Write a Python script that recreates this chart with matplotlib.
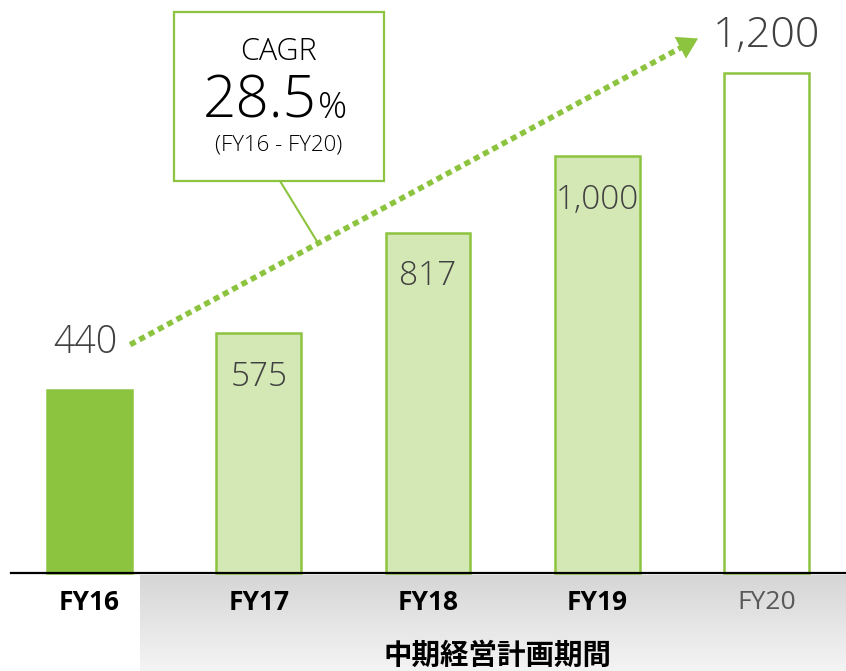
import numpy as np
import matplotlib
matplotlib.use('Agg')
import matplotlib.pyplot as plt
from matplotlib.patches import Rectangle, FancyArrowPatch
from matplotlib.lines import Line2D

# Data
years = ['FY16', 'FY17', 'FY18', 'FY19', 'FY20']
sales = [440, 575, 817, 1000, 1200]
value_labels = ['440', '575', '817', '1,000', '1,200']
cagr_text = '28.5'
cagr_period = '(FY16 - FY20)'
band_label = '中期経営計画期間'

GREEN = '#8dc43f'
LIGHT = '#d3e8b4'
TXT = '#404040'

W, H = 846, 671
fig = plt.figure(figsize=(W / 100, H / 100), dpi=100)
ax = fig.add_axes([0, 0, 1, 1])
ax.set_xlim(-0.5288, 4.4697)
ax.set_ylim(-235.2, 1375.2)
ax.axis('off')

latin = ['Open Sans', 'DejaVu Sans']
cjk = ['Noto Sans CJK JP', 'DejaVu Sans']


def fxy(px, py):
    # pixel position (from top-left) to figure fraction
    return px / W, 1 - py / H


x = np.arange(len(years))

# gray gradient band under the mid-term plan years
grad = np.linspace(0, 1, 100).reshape(-1, 1)
ax.imshow(grad, cmap=matplotlib.colors.LinearSegmentedColormap.from_list('g', ['#d6d6d6', '#f4f4f4']),
          extent=(0.3, 4.4697, -235.2, -5), aspect='auto', zorder=0)

# bars
faces = [GREEN, LIGHT, LIGHT, LIGHT, 'white']
for i in range(len(years)):
    ax.bar(x[i], sales[i], width=0.5, color=faces[i],
           edgecolor=GREEN, linewidth=1.8, zorder=2)

# baseline
ax.axhline(0, xmin=0.013, xmax=1, color='black', linewidth=1.6, zorder=3)

# value labels inside bars
for i in [1, 2, 3]:
    ax.text(x[i], sales[i] - 105, value_labels[i], ha='center', va='center',
            fontsize=24, color=TXT, family=latin, fontweight='light', zorder=4)
ax.text(x[0] + 0.168, sales[0] + 112, value_labels[0], ha='right', va='center',
        fontsize=27, color=TXT, family=latin, fontweight='light')
ax.text(x[4], sales[4] + 89, value_labels[4], ha='center', va='center',
        fontsize=31, color=TXT, family=latin, fontweight='light')

# dotted growth arrow
sx, sy = x[0] + 0.24, sales[0] + 108
ex, ey = x[4] - 0.39, sales[4] + 86
ax.plot([sx, ex - 0.06], [sy, ey - 13], color=GREEN, linewidth=4,
        linestyle=(0, (1.1, 0.8)), dash_capstyle='butt', zorder=3)
ax.add_patch(FancyArrowPatch((ex - 0.08, ey - 17), (ex, ey),
                             arrowstyle='-|>,head_length=0.9,head_width=0.55',
                             mutation_scale=16, color=GREEN, linewidth=0, zorder=3))

# x labels
for i, yr in enumerate(years):
    last = i == len(years) - 1
    ax.text(x[i], -70, yr, ha='center', va='center', fontsize=19,
            fontweight='normal' if last else 'bold',
            color='#595959' if last else 'black', family=latin)
ax.text(2.41, -200, band_label, ha='center', va='center', fontsize=20.5,
        fontweight='bold', color='black', family=cjk)

# CAGR callout
x0, y0 = fxy(174, 181)
x1, y1 = fxy(384, 12)
fig.patches.append(Rectangle((x0, y0), x1 - x0, y1 - y0, transform=fig.transFigure,
                             facecolor='white', edgecolor=GREEN, linewidth=1.6, zorder=5))
fig.lines.append(Line2D(*zip(fxy(280, 181), fxy(318, 243)), transform=fig.transFigure,
                        color=GREEN, linewidth=1.5))
fig.text(*fxy(279, 52), 'CAGR', ha='center', va='center', fontsize=22, color='black',
         family=latin, fontweight='light', zorder=6)
fig.text(*fxy(317, 118), cagr_text, ha='right', va='baseline', fontsize=42, color='black',
         family=latin, fontweight='light', zorder=6)
fig.text(*fxy(318, 118), '%', ha='left', va='baseline', fontsize=26, color='black',
         family=latin, fontweight='light', zorder=6)
fig.text(*fxy(279, 145), cagr_period, ha='center', va='center', fontsize=16, color='black',
         family=latin, fontweight='light', zorder=6)

fig.savefig('out.png', dpi=100)
